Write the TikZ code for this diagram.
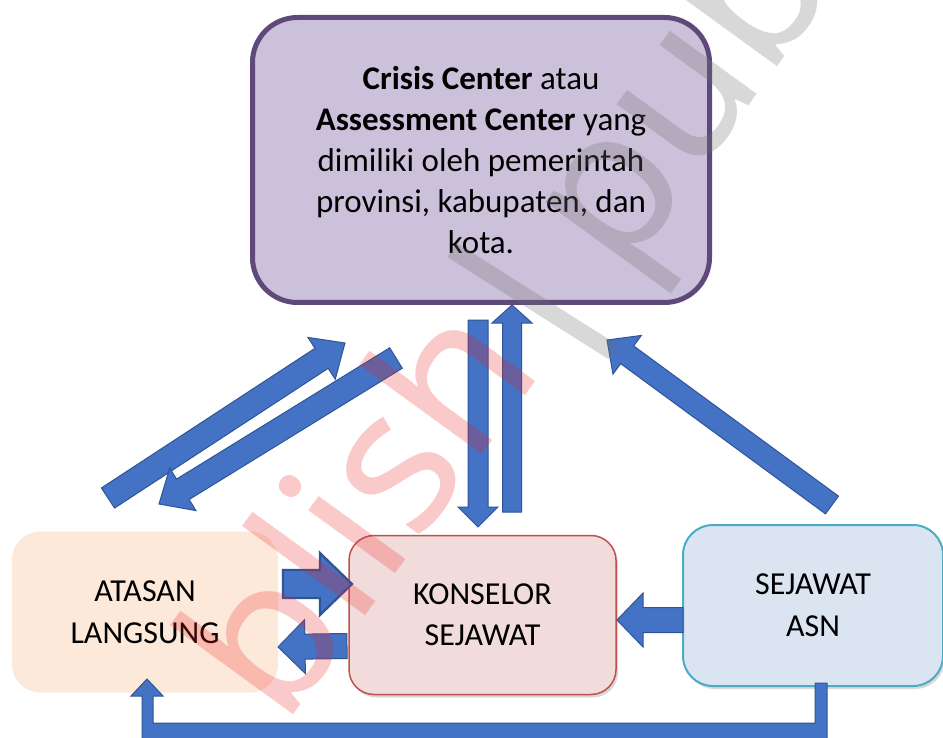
\documentclass[tikz,border=0pt]{standalone}
\usepackage{fontspec}
\setmainfont{Carlito}
\newfontfamily\wmfont{Noto Sans}
\usetikzlibrary{calc,shadows}
\definecolor{arfill}{HTML}{4472C4}
\definecolor{ardraw}{HTML}{2F5597}
\definecolor{purfill}{HTML}{CCC1DA}
\definecolor{purdraw}{HTML}{5F497A}
\definecolor{peach}{HTML}{FDE9D9}
\definecolor{pinkfill}{HTML}{F2DCDB}
\definecolor{pinkdraw}{HTML}{C0504D}
\definecolor{bluefill}{HTML}{DBE5F1}
\definecolor{bluedraw}{HTML}{4BACC6}
\definecolor{wmred}{HTML}{EE2222}
\definecolor{wmgray}{HTML}{707070}
\tikzset{
  blockarrow/.style={draw=ardraw, fill=arfill, line width=1pt, line join=miter},
  boxbase/.style={rounded corners=#1, align=center, inner sep=0pt},
  softshadow/.style={drop shadow={shadow xshift=2pt, shadow yshift=-3pt, opacity=0.25, fill=black!60}},
  wmtext/.style={rotate=54, font=\wmfont\fontsize{200}{200}\selectfont, inner sep=0pt}
}
\newcommand{\barrow}[5]{%
  \coordinate (bA) at #1; \coordinate (bH) at #2;
  \coordinate (bB) at ($(bH)!#5!(bA)$);
  \draw[blockarrow] ($(bA)!#3!90:(bH)$) -- ($(bB)!#3!90:(bH)$) -- ($(bB)!#4!90:(bH)$) -- (bH)
     -- ($(bB)!#4!-90:(bH)$) -- ($(bB)!#3!-90:(bH)$) -- ($(bA)!#3!-90:(bH)$) -- cycle;}
\begin{document}
\begin{tikzpicture}[x=1pt,y=-1pt]
\useasboundingbox (0,0) rectangle (943,738);
\clip (0,0) rectangle (943,738);
\fill[white] (0,0) rectangle (943,738);

% boxes
\node[boxbase=45pt, draw=purdraw, line width=5pt, fill=purfill, minimum width=457pt, minimum height=285pt,
      font=\fontsize{33}{41}\selectfont] (crisis) at (481,160)
  {\textbf{Crisis Center} atau\\ \textbf{Assessment Center} yang\\ dimiliki oleh pemerintah\\ provinsi, kabupaten, dan\\ kota.};
\node[boxbase=28pt, fill=peach, minimum width=266pt, minimum height=161pt,
      font=\fontsize{32}{42}\selectfont] (atasan) at (145,612) {ATASAN\\LANGSUNG};
\node[boxbase=25pt, softshadow, draw=pinkdraw, line width=1.5pt, fill=pinkfill, minimum width=267pt, minimum height=159pt,
      font=\fontsize{32}{41}\selectfont] (konselor) at (482.5,615) {KONSELOR\\SEJAWAT};
\node[boxbase=30pt, softshadow, draw=bluedraw, line width=2pt, fill=bluefill, minimum width=260pt, minimum height=161pt,
      font=\fontsize{32}{42}\selectfont] (asn) at (813,605.5) {SEJAWAT\\ASN};

% block arrows
\barrow{(108,498)}{(345,343)}{12pt}{25pt}{28pt}
\barrow{(396,358)}{(159,504)}{12pt}{25pt}{28pt}
\barrow{(478,320)}{(478,527)}{10pt}{20pt}{20pt}
\barrow{(512,512)}{(512,305)}{9.5pt}{20pt}{18pt}
\barrow{(832,505)}{(607,340)}{11pt}{24pt}{25pt}
\barrow{(347,646)}{(278,647)}{12.5pt}{27pt}{27pt}
\barrow{(683,620)}{(617,620)}{12.5pt}{27pt}{26pt}
\begin{scope}[blockarrow/.append style={line width=2.2pt}]
\barrow{(283,584)}{(352,584)}{14pt}{31pt}{32pt}
\end{scope}
% bent arrow from ASN to ATASAN
\coordinate (bendtip) at (147,679);
\draw[blockarrow] (bendtip) -- (163,696) -- (153,696) -- (153,723) -- (815,723) -- (815,683)
   -- (827,683) -- (827,745) -- (142,745) -- (142,696) -- (131,696) -- cycle;

% watermark
\node[wmtext, anchor=base west, text=wmred, text opacity=0.24] (wmred) at (283,729) {blish};
\node[wmtext, anchor=base west, text=wmgray, text opacity=0.27] (wmgray) at (622,280) {pub};
\coordinate (wmA) at (452,250);
\coordinate (wmB) at (613,352);
\draw[wmgray, opacity=0.27, line width=17pt] (wmA) -- (wmB);
\end{tikzpicture}
\end{document}
